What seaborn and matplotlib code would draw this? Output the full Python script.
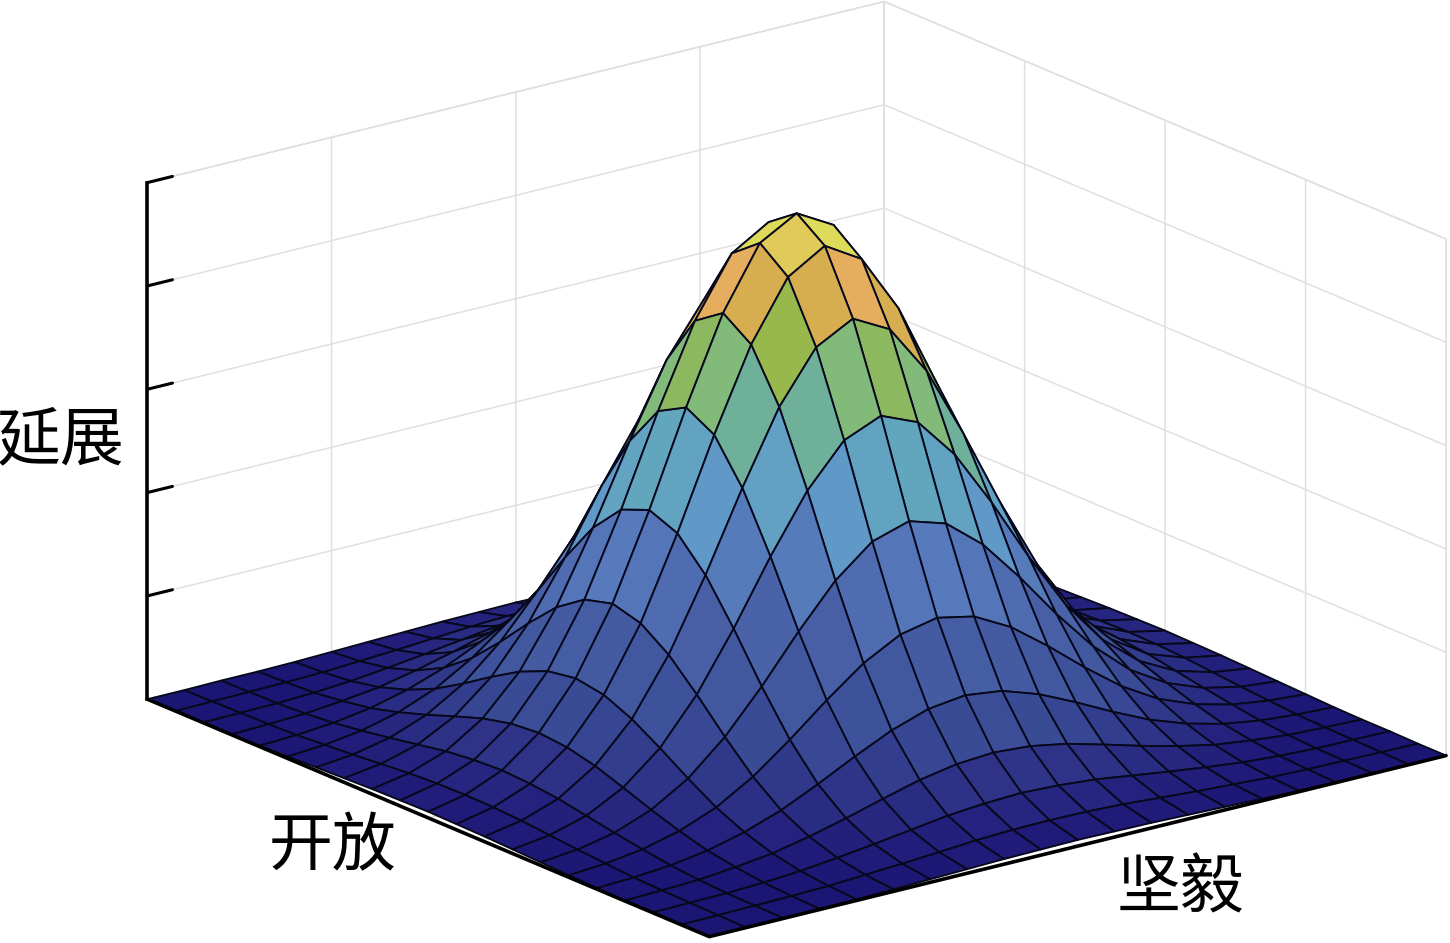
import numpy as np
import matplotlib
matplotlib.use('Agg')
import matplotlib.pyplot as plt
import seaborn as sns
from matplotlib.colors import LinearSegmentedColormap

# height of the surface, centre node first, one quadrant
z_quadrant = [
    [0.995, 0.955, 0.837, 0.672, 0.491, 0.327, 0.200, 0.112, 0.057, 0.027, 0.012],
    [0.955, 0.912, 0.799, 0.642, 0.469, 0.312, 0.191, 0.107, 0.054, 0.026, 0.011],
    [0.837, 0.799, 0.701, 0.562, 0.411, 0.274, 0.167, 0.094, 0.048, 0.023, 0.010],
    [0.672, 0.642, 0.562, 0.452, 0.330, 0.220, 0.134, 0.075, 0.038, 0.018, 0.008],
    [0.491, 0.469, 0.411, 0.330, 0.241, 0.161, 0.098, 0.055, 0.028, 0.013, 0.006],
    [0.327, 0.312, 0.274, 0.220, 0.161, 0.107, 0.065, 0.037, 0.019, 0.009, 0.004],
    [0.200, 0.191, 0.167, 0.134, 0.098, 0.065, 0.040, 0.022, 0.011, 0.005, 0.002],
    [0.112, 0.107, 0.094, 0.075, 0.055, 0.037, 0.022, 0.013, 0.006, 0.003, 0.001],
    [0.057, 0.054, 0.048, 0.038, 0.028, 0.019, 0.011, 0.006, 0.003, 0.002, 0.001],
    [0.027, 0.026, 0.023, 0.018, 0.013, 0.009, 0.005, 0.003, 0.002, 0.001, 0.000],
    [0.012, 0.011, 0.010, 0.008, 0.006, 0.004, 0.002, 0.001, 0.001, 0.000, 0.000],
]
# node index -> distance from the centre node
node_offset = [10, 9, 8, 7, 6, 5, 4, 3, 2, 1, 0, 1, 2, 3, 4, 5, 6, 7, 8, 9, 10]

z_ticks = [0.2, 0.4, 0.6, 0.8, 1.0]
wall_ticks = [0, 5, 10, 15, 20]

color_levels = [0.00, 0.01, 0.04, 0.07, 0.107, 0.161, 0.241, 0.31, 0.37, 0.41, 0.45, 0.50,
                0.56, 0.64, 0.70, 0.80, 0.84, 0.91, 0.955, 1.00]
color_hex = ['#1B1673', '#211C7A', '#2B2F85', '#323B8C', '#3A4C96', '#41589F', '#4A62A8',
             '#5476B8', '#5B84C2', '#6098C8', '#62A0C4', '#62A8BC', '#6EB09A', '#80BA7C',
             '#95B84C', '#D6AE4F', '#E5AE5E', '#E0C95A', '#DEDB5A', '#E6E058']

sns.set_theme(style='white')
plt.rcParams['font.family'] = ['Noto Sans CJK SC', 'DejaVu Sans']

cmap = LinearSegmentedColormap.from_list('surface', list(zip(color_levels, sns.color_palette(color_hex))))

quad = np.array(z_quadrant)
z = quad[node_offset][:, node_offset]

# node 0,0 is the corner nearest the viewer
X, Y = np.meshgrid(np.arange(20, -1, -1), np.arange(0, 21))

W, H = 1450, 943
side = 1378
left = 89.1
bottom = -233.7

fig = plt.figure(figsize=(W / 100, H / 100), dpi=100, facecolor='white')
ax = fig.add_axes([left / W, bottom / H, side / W, side / H], projection='3d',
                  proj_type='ortho', computed_zorder=False)
ax.view_init(elev=18.8, azim=-37.33)
ax.set_box_aspect((927, 927, 546))
ax.set_xlim(0, 20, view_margin=0)
ax.set_ylim(0, 20, view_margin=0)
ax.set_zlim(0, 1, view_margin=0)

ax.set_xticks(wall_ticks)
ax.set_yticks(wall_ticks)
ax.set_zticks(z_ticks)
ax.set_xticklabels([])
ax.set_yticklabels([])
ax.set_zticklabels([])

for axis in [ax.xaxis, ax.yaxis, ax.zaxis]:
    axis.set_pane_color('white')
    axis.pane.set_edgecolor('#e0e0e0')
    axis.pane.set_linewidth(1.1)
    axis.line.set_color((0, 0, 0, 0))
    axis._axinfo['grid'].update(color='#e0e0e0', linewidth=1.1)
    axis._axinfo['tick'].update(inward_factor=0, outward_factor=0)

ax.plot_surface(X, Y, z, rstride=1, cstride=1, facecolors=cmap(z), shade=False,
                edgecolor='#08081c', linewidth=1.35, zorder=2)

# box edges in front of the surface
ax.plot([0, 0], [0, 0], [0, 1], color='black', lw=2.6, zorder=3, solid_capstyle='projecting')
ax.plot([0, 20, 20], [0, 0, 20], [0, 0, 0], color='black', lw=2.6, zorder=3)
for tick in z_ticks:
    ax.plot([0, 0], [0, 0.68], [tick, tick], color='black', lw=2.2, zorder=3)

fig.text(333 / W, 1 - 847 / H, '开放', fontsize=46, color='black', ha='center', va='center')
fig.text(1180 / W, 1 - 889 / H, '坚毅', fontsize=46, color='black', ha='center', va='center')
fig.text(61 / W, 1 - 441 / H, '延展', fontsize=46, color='black', ha='center', va='center')

fig.savefig('out.png', dpi=100)
